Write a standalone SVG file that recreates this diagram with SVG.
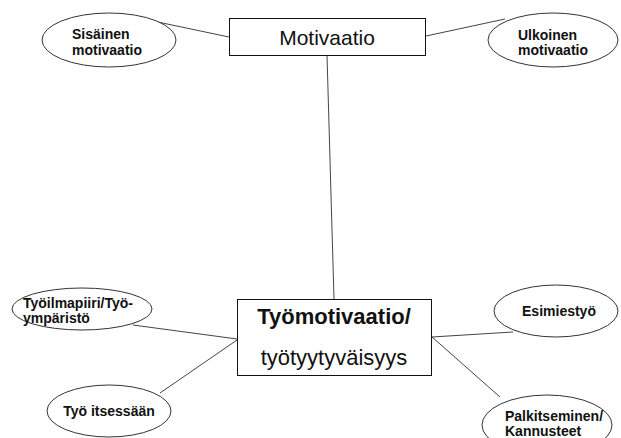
<svg xmlns="http://www.w3.org/2000/svg" width="621" height="438" viewBox="0 0 621 438">
<style>
.bg{fill:#ffffff}
.ell{fill:#ffffff;stroke:#333333;stroke-width:1}
.box{fill:#ffffff;stroke:#111111;stroke-width:1}
.con line{stroke:#444444;stroke-width:1}
.lab{font-family:"Liberation Sans",Arial,sans-serif;font-size:14px;font-weight:bold;fill:#111111}
.big{font-family:"Liberation Sans",Arial,sans-serif;font-size:21px;fill:#111111;text-anchor:middle}
</style>
<rect class="bg" x="0" y="0" width="621" height="438"/>
<g id="connectors" class="con">
<line x1="153" y1="21" x2="229" y2="37"/>
<line x1="426" y1="36" x2="505" y2="19"/>
<line x1="327" y1="55" x2="334" y2="299"/>
<line x1="133" y1="325" x2="237" y2="339"/>
<line x1="237" y1="340" x2="160" y2="393"/>
<line x1="432" y1="337" x2="513" y2="332"/>
<line x1="432" y1="337" x2="500" y2="397"/>
</g>
<g id="sisainen">
<ellipse class="ell" cx="109" cy="40" rx="67" ry="27"/>
<text class="lab" x="72" y="39">Sisäinen</text>
<text class="lab" x="72" y="55">motivaatio</text>
</g>
<g id="motivaatio">
<rect class="box" x="229.5" y="18.5" width="196" height="37"/>
<text class="big" x="327" y="45">Motivaatio</text>
</g>
<g id="ulkoinen">
<ellipse class="ell" cx="553" cy="40" rx="65" ry="27"/>
<text class="lab" x="518" y="40">Ulkoinen</text>
<text class="lab" x="518" y="55">motivaatio</text>
</g>
<g id="tyomotivaatio">
<rect class="box" x="237.5" y="299.5" width="194" height="76"/>
<text class="big" x="334" y="324" style="font-weight:bold;font-size:22px">Työmotivaatio/</text>
<text class="big" x="334" y="365" style="font-size:22px">työtyytyväisyys</text>
</g>
<g id="tyoilmapiiri">
<ellipse class="ell" cx="82" cy="309" rx="70" ry="21"/>
<text class="lab" x="23" y="308">Työilmapiiri/Työ-</text>
<text class="lab" x="23" y="323">ympäristö</text>
</g>
<g id="tyoitsessaan">
<ellipse class="ell" cx="109" cy="411" rx="62" ry="26"/>
<text class="lab" x="109" y="416" text-anchor="middle">Työ itsessään</text>
</g>
<g id="esimiestyo">
<ellipse class="ell" cx="556" cy="311" rx="62" ry="26"/>
<text class="lab" x="559" y="316" text-anchor="middle">Esimiestyö</text>
</g>
<g id="palkitseminen">
<ellipse class="ell" cx="547" cy="425" rx="65" ry="30"/>
<text class="lab" x="505" y="421">Palkitseminen/</text>
<text class="lab" x="505" y="436">Kannusteet</text>
</g>
</svg>
